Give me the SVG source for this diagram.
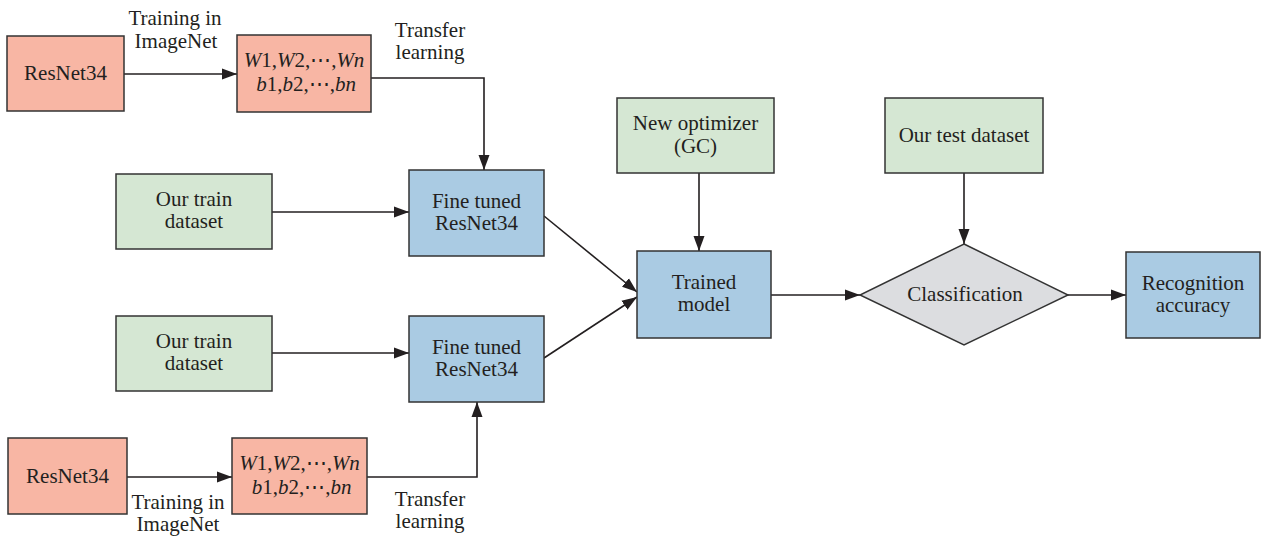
<svg xmlns="http://www.w3.org/2000/svg" width="1261" height="536" viewBox="0 0 1261 536">
<defs>
<marker id="ah" markerUnits="userSpaceOnUse" markerWidth="16" markerHeight="12" refX="15" refY="6" orient="auto">
<path d="M0,0.5 L15,6 L0,11.5 Z" fill="#231f20"/>
</marker>
<style>
text{font-family:"Liberation Serif","Times New Roman",serif;font-size:21px;fill:#231f20;text-anchor:middle}
.it{font-style:italic}
.box{stroke:#333;stroke-width:1.5}
.red{fill:#f8b6a4}
.grn{fill:#d5e7d3}
.blu{fill:#aacbe3}
.gry{fill:#dcdde0}
.c{fill:none;stroke:#231f20;stroke-width:1.6}
</style>
</defs>
<rect width="1261" height="536" fill="#fff"/>
<g id="connectors">
<line class="c" x1="124" y1="74" x2="237" y2="74" marker-end="url(#ah)"/>
<polyline class="c" points="371,78 484,78 484,170" marker-end="url(#ah)"/>
<line class="c" x1="272" y1="212" x2="409" y2="212" marker-end="url(#ah)"/>
<line class="c" x1="272" y1="353" x2="409" y2="353" marker-end="url(#ah)"/>
<line class="c" x1="127" y1="477" x2="232" y2="477" marker-end="url(#ah)"/>
<polyline class="c" points="367,477 477,477 477,402" marker-end="url(#ah)"/>
<line class="c" x1="544" y1="216" x2="637" y2="292" marker-end="url(#ah)"/>
<line class="c" x1="544" y1="358" x2="637" y2="297" marker-end="url(#ah)"/>
<line class="c" x1="699" y1="173" x2="699" y2="251" marker-end="url(#ah)"/>
<line class="c" x1="964" y1="173" x2="964" y2="244" marker-end="url(#ah)"/>
<line class="c" x1="771" y1="295" x2="860" y2="295" marker-end="url(#ah)"/>
<line class="c" x1="1068" y1="295" x2="1126" y2="295" marker-end="url(#ah)"/>
<text x="175" y="25">Training in</text>
<text x="176" y="48">ImageNet</text>
<text x="430" y="37">Transfer</text>
<text x="430" y="59">learning</text>
<text x="178" y="509">Training in</text>
<text x="178" y="531">ImageNet</text>
<text x="430" y="506">Transfer</text>
<text x="430" y="528">learning</text>
</g>
<g id="resnet_top">
<rect class="box red" x="7" y="36" width="117" height="75"/>
<text x="65.5" y="80">ResNet34</text>
</g>
<g id="weights_top">
<rect class="box red" x="237" y="35" width="134" height="77"/>
<text x="304" y="67"><tspan class="it">W</tspan>1,<tspan class="it">W</tspan>2,⋯,<tspan class="it">Wn</tspan></text>
<text x="306" y="91"><tspan class="it">b</tspan>1,<tspan class="it">b</tspan>2,⋯,<tspan class="it">bn</tspan></text>
</g>
<g id="train_top">
<rect class="box grn" x="116" y="174" width="156" height="75"/>
<text x="194" y="206">Our train</text>
<text x="194" y="228">dataset</text>
</g>
<g id="fine_top">
<rect class="box blu" x="409" y="170" width="135" height="86"/>
<text x="476.5" y="208">Fine tuned</text>
<text x="476.5" y="230">ResNet34</text>
</g>
<g id="train_bottom">
<rect class="box grn" x="116" y="316" width="156" height="75"/>
<text x="194" y="348">Our train</text>
<text x="194" y="370">dataset</text>
</g>
<g id="fine_bottom">
<rect class="box blu" x="409" y="316" width="135" height="86"/>
<text x="476.5" y="354">Fine tuned</text>
<text x="476.5" y="376">ResNet34</text>
</g>
<g id="resnet_bottom">
<rect class="box red" x="8" y="438" width="119" height="76"/>
<text x="67.5" y="483">ResNet34</text>
</g>
<g id="weights_bottom">
<rect class="box red" x="232" y="438" width="135" height="76"/>
<text x="299.5" y="470"><tspan class="it">W</tspan>1,<tspan class="it">W</tspan>2,⋯,<tspan class="it">Wn</tspan></text>
<text x="301.5" y="494"><tspan class="it">b</tspan>1,<tspan class="it">b</tspan>2,⋯,<tspan class="it">bn</tspan></text>
</g>
<g id="optimizer">
<rect class="box grn" x="617" y="98" width="157" height="75"/>
<text x="695.5" y="130">New optimizer</text>
<text x="695.5" y="153">(GC)</text>
</g>
<g id="test_dataset">
<rect class="box grn" x="885" y="98" width="158" height="75"/>
<text x="964" y="142">Our test dataset</text>
</g>
<g id="trained_model">
<rect class="box blu" x="637" y="251" width="134" height="87"/>
<text x="704" y="289">Trained</text>
<text x="704" y="311">model</text>
</g>
<g id="classification">
<polygon class="box gry" points="964,244 1068,295 964,345 860,295"/>
<text x="965" y="301">Classification</text>
</g>
<g id="accuracy">
<rect class="box blu" x="1126" y="252" width="134" height="86"/>
<text x="1193" y="290">Recognition</text>
<text x="1193" y="312">accuracy</text>
</g>
</svg>
